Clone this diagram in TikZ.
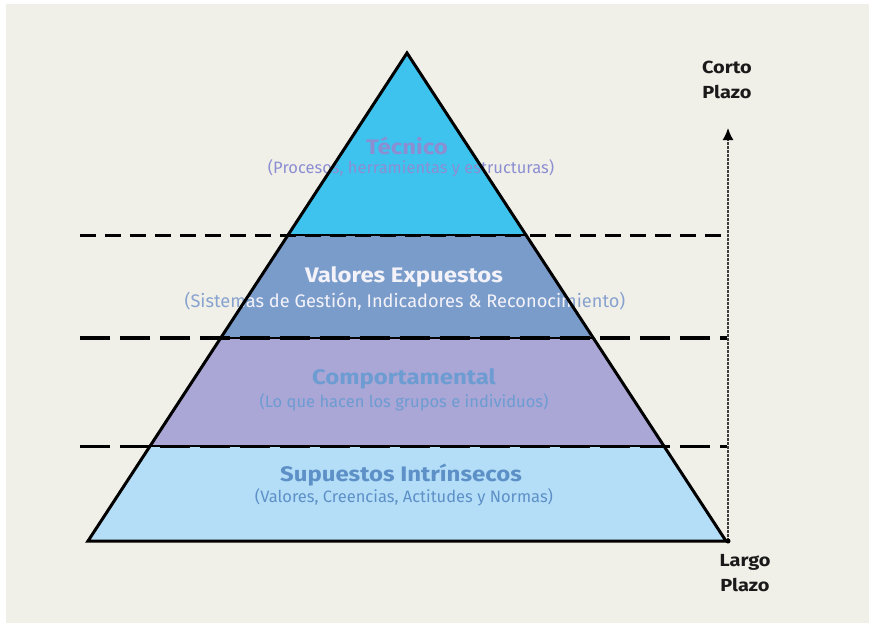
\documentclass[tikz,border=0pt]{standalone}
\usepackage{fontspec}
\setmainfont{Fira Sans}
\newfontfamily\widefont[FakeStretch=1.14]{Fira Sans}
\usetikzlibrary{arrows.meta}
\definecolor{bg}{HTML}{F1F0E8}
\definecolor{cTec}{HTML}{3EC3EE}
\definecolor{cVal}{HTML}{7A9CCB}
\definecolor{cCom}{HTML}{AAA6D6}
\definecolor{cSup}{HTML}{B4DEF7}
\definecolor{tTec}{HTML}{8C8ED2}
\definecolor{tVal}{HTML}{F2F2F8}
\definecolor{tValOut}{HTML}{88A3CF}
\definecolor{tCom}{HTML}{6C9CD2}
\definecolor{tSup}{HTML}{5E90C8}
\definecolor{ink}{HTML}{1A1A1A}
\tikzset{
  ttl/.style={font=\widefont\bfseries\fontsize{21}{21}\selectfont, inner sep=0pt, anchor=center},
  sub/.style={font=\fontsize{16.5}{16.5}\selectfont, inner sep=0pt, anchor=center},
  subbig/.style={font=\fontsize{18.2}{18.2}\selectfont, inner sep=0pt, anchor=center},
  sidelbl/.style={font=\widefont\bfseries\fontsize{17.5}{25}\selectfont, text=ink, align=center, inner sep=0pt},
  sepline/.style={draw=black, line width=2.5pt},
  dashthin/.style={draw=black, line width=3pt, dash pattern=on 16pt off 9pt},
  dashthick/.style={draw=black, line width=4pt, dash pattern=on 30pt off 10pt},
  dashmid/.style={draw=black, line width=3pt, dash pattern=on 30pt off 10pt},
  timeline/.style={draw=black!75, line width=1.6pt, dash pattern=on 3pt off 1pt, -{Latex[length=12pt,width=11pt,black]}}
}
\begin{document}
\begin{tikzpicture}[x=1pt,y=-1pt]
\useasboundingbox (0,0) rectangle (869,622);
\fill[white] (0,0) rectangle (869,622);
\fill[bg] (6,4) rectangle (875,628);
% pyramid corners
\coordinate (apex) at (407,53);
\coordinate (l1) at (288,235); \coordinate (r1) at (526,235);
\coordinate (l2) at (221,338); \coordinate (r2) at (593,338);
\coordinate (l3) at (150,446); \coordinate (r3) at (664,446);
\coordinate (l4) at (88,541);  \coordinate (r4) at (726,541);
% bands
\fill[cTec] (apex) -- (r1) -- (l1) -- cycle;
\fill[cVal] (l1) -- (r1) -- (r2) -- (l2) -- cycle;
\fill[cCom] (l2) -- (r2) -- (r3) -- (l3) -- cycle;
\fill[cSup] (l3) -- (r3) -- (r4) -- (l4) -- cycle;
% texts
\node[ttl, text=tTec] (tec) at (407,146) {Técnico};
\node[sub, text=tTec] (tecs) at (411,168) {(Procesos, herramientas y estructuras)};
\node[ttl, text=tVal] (val) at (404,277) {Valores Expuestos};
\node[subbig, text=tValOut] (vals) at (405,301) {(Sistemas de Gestión, Indicadores \& Reconocimiento)};
\begin{scope}
  \clip (l1) -- (r1) -- (r2) -- (l2) -- cycle;
  \node[subbig, text=tVal] (valsin) at (405,301) {(Sistemas de Gestión, Indicadores \& Reconocimiento)};
\end{scope}
\node[ttl, text=tCom] (com) at (404,379) {Comportamental};
\node[sub, text=tCom] (coms) at (404,402) {(Lo que hacen los grupos e individuos)};
\node[ttl, text=tSup] (sup) at (401,475) {Supuestos Intrínsecos};
\node[sub, text=tSup] (sups) at (404,497) {(Valores, Creencias, Actitudes y Normas)};
% separators inside
\draw[sepline] (l1) -- (r1);
\draw[sepline] (l2) -- (r2);
\draw[sepline] (l3) -- (r3);
% outline
\draw[line width=3pt, line join=miter] (apex) -- (r4) -- (l4) -- cycle;
% dashed guide lines
\coordinate (d1a) at (80,235); \coordinate (d1b) at (727,235);
\coordinate (d2a) at (80,338); \coordinate (d2b) at (727,338);
\coordinate (d3a) at (80,446); \coordinate (d3b) at (727,446);
\draw[dashthin] (d1a) -- (d1b);
\draw[dashthick] (d2a) -- (d2b);
\draw[dashmid] (d3a) -- (d3b);
% time axis
\coordinate (tbot) at (728,541);
\coordinate (ttop) at (728,128);
\draw[timeline] (tbot) -- (ttop);
\fill[black] (tbot) circle (2.5pt);
\node[sidelbl] (corto) at (727,80) {Corto\\Plazo};
\node[sidelbl] (largo) at (745,573) {Largo\\Plazo};
\end{tikzpicture}
\end{document}
